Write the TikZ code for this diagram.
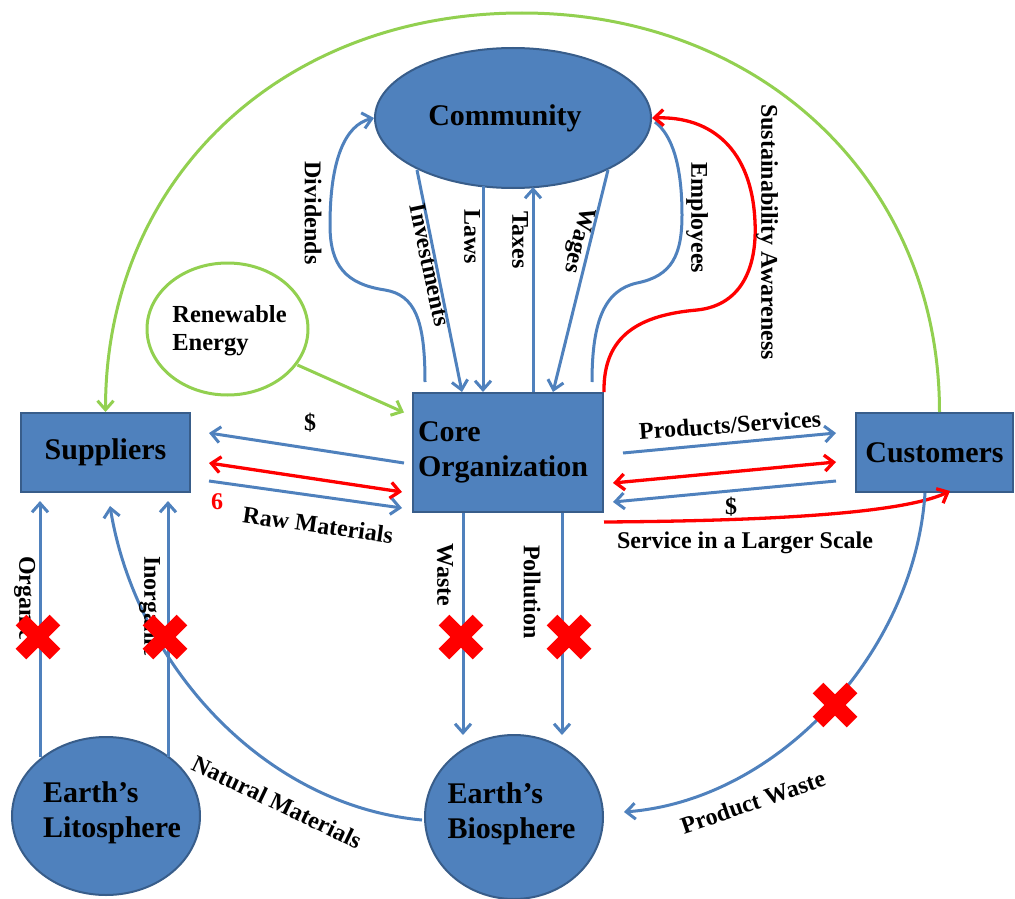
\documentclass[tikz,border=0pt]{standalone}
\usepackage{fontspec}
\setmainfont{Liberation Serif}
\usetikzlibrary{arrows.meta,shapes.geometric,calc}
\definecolor{fillblue}{HTML}{4F81BD}
\definecolor{edgeblue}{HTML}{385D8A}
\definecolor{lineblue}{HTML}{4F81BD}
\definecolor{leaf}{HTML}{92D050}
\definecolor{alarm}{HTML}{FF0000}
\newcommand\nodefont{\fontsize{30}{35}\selectfont\bfseries}
\newcommand\renfont{\fontsize{24.5}{28}\selectfont\bfseries}
\newcommand\lblfont{\fontsize{24}{28}\selectfont\bfseries}

\begin{document}
\begin{tikzpicture}[x=1pt,y=-1pt,
  >={Straight Barb[length=9pt,width=16pt]},
  box/.style={rectangle,draw=edgeblue,line width=2pt,fill=fillblue,inner sep=0pt,font=\nodefont},
  orb/.style={ellipse,draw=edgeblue,line width=2pt,fill=fillblue,inner sep=0pt},
  inside/.style={font=\nodefont,align=left,inner sep=0pt},
  flow/.style={draw=lineblue,line width=3pt},
  hot/.style={draw=alarm,line width=3.3pt},
  eco/.style={draw=leaf,line width=3pt},
  lbl/.style={font=\lblfont,inner sep=0pt},
  xmark/.pic={\draw[alarm,line width=15pt] (-17,-17) -- (17,17) (-17,17) -- (17,-17);}
]
\useasboundingbox (0,0) rectangle (1015,899);

% ---- actors ----
\node[box,minimum width=169pt,minimum height=79pt] (sup) at (105.5,452.5) {Suppliers};
\node[box,minimum width=157pt,minimum height=79pt] (cust) at (934.5,452.5) {Customers};
\node[box,minimum width=190pt,minimum height=119pt,text width=180pt,align=left,inner sep=5pt] (core) at (508,452.5) {Core\\Organization};
\node[orb,minimum width=276pt,minimum height=140pt,
      label={[inside,xshift=-8pt]center:Community}] (comm) at (513,118) {};
\node[ellipse,draw=leaf,line width=3pt,fill=white,minimum width=161pt,minimum height=132pt,inner sep=0pt,
      label={[font=\renfont,align=left,inner sep=0pt,xshift=2pt,yshift=-2pt]center:Renewable\\Energy}] (ren) at (227.5,329) {};
\node[orb,minimum width=188pt,minimum height=158pt,
      label={[inside,xshift=6pt,yshift=3pt]center:Earth’s\\Litosphere}] (lito) at (106,816) {};
\node[orb,minimum width=178pt,minimum height=164pt,
      label={[inside,xshift=-2.5pt,yshift=3.5pt]center:Earth’s\\Biosphere}] (bio) at (514,817) {};

% ---- community exchanges ----
\draw[flow,->] ($(core.north)+(-83,-10)$) .. controls (425,320) and (415,295) .. (385,290)
   .. controls (345,284) and (330,265) .. (330,225) .. controls (330,160) and (345,125) .. (comm.west);
\draw[flow] ($(core.north)+(84,-10)$) .. controls (592,320) and (605,290) .. (637,283)
   .. controls (672,276) and (682,255) .. (682,215) .. controls (682,165) and (672,135) .. ($(comm.east)+(3,4)$);
\draw[flow,->] ($(comm.center)+(-96,52)$) -- ($(core.north)+(-46,0)$);
\draw[flow,->] ($(comm.center)+(-30,68)$) -- ($(core.north)+(-25,0)$);
\draw[flow,->] ($(core.north)+(25,0)$) -- ($(comm.center)+(20,69)$);
\draw[flow,->] ($(comm.center)+(95,52)$) -- ($(core.north)+(45,0)$);
\draw[hot,->] (core.north east) .. controls (603,335) and (640,315) .. (697,310)
   .. controls (745,305) and (757,262) .. (755,222) .. controls (752,150) and (712,116) .. (comm.east);

% ---- energy and the outer loop ----
\draw[eco,->] ($(ren.center)+(70,36)$) -- ($(core.west)+(-8,-40)$);
\draw[eco,->] ($(cust.north)+(5,0)$) .. controls (939.5,180) and (760,13) .. (522,13)
   .. controls (280,13) and (105.5,180) .. (sup.north);

% ---- suppliers <-> core ----
\draw[flow,->] ($(core.west)+(-8,10.5)$) -- ($(sup.east)+(18,-19.5)$);
\draw[hot,<->] ($(sup.east)+(18,10.5)$) -- ($(core.west)+(-10,39.5)$);
\draw[flow,->] ($(sup.east)+(18,28.5)$) -- ($(core.west)+(-10,55.5)$);

% ---- core <-> customers ----
\draw[flow,->] ($(core.east)+(19,0.5)$) -- ($(cust.west)+(-19,-19.5)$);
\draw[hot,<->] ($(core.east)+(9,30.5)$) -- ($(cust.west)+(-19,9.5)$);
\draw[flow,->] ($(cust.west)+(-19,28.5)$) -- ($(core.east)+(9,49.5)$);
\draw[hot,->] ($(core.south east)+(0,9)$) .. controls (750,521) and (900,515) .. ($(cust.south)+(15.5,-2)$);

% ---- flows into the earth ----
\draw[flow,->] ($(core.south)+(-45,0)$) -- ($(bio.center)+(-51,-82)$);
\draw[flow,->] ($(core.south)+(54,0)$) -- ($(bio.center)+(48,-82)$);
\draw[flow,->] ($(cust.south)+(-9.5,0)$) .. controls (915,650) and (780,800) .. ($(bio.east)+(20,-5)$);

% ---- flows from the earth ----
\draw[flow,->] ($(lito.center)+(-66,-59)$) -- ($(sup.south)+(-65.5,8)$);
\draw[flow,->] ($(lito.center)+(62,-59)$) -- ($(sup.south)+(62.5,8)$);
\draw[flow,->] ($(bio.west)+(-2,3)$) .. controls (260,805) and (135,660) .. ($(sup.south)+(4.5,13)$);

% ---- labels ----
\node[lbl,rotate=-90] (t-div) at (313,213) {Dividends};
\node[lbl,rotate=-78] (t-inv) at (430,265) {Investments};
\node[lbl,rotate=-90] (t-law) at (472,237) {Laws};
\node[lbl,rotate=-90] (t-tax) at (520,240) {Taxes};
\node[lbl,rotate=-104] (t-wag) at (578,240) {Wages};
\node[lbl,rotate=-90] (t-emp) at (697,218) {Employees};
\node[lbl,rotate=-90] (t-sus) at (767,232) {Sustainability Awareness};
\node[lbl] (t-sd) at (310,423) {\$};
\node[lbl,text=alarm] (t-six) at (217,502) {6};
\node[lbl,rotate=-8] (t-raw) at (318,525) {Raw Materials};
\node[lbl,rotate=4] (t-prod) at (730,425) {Products/Services};
\node[lbl] (t-cd) at (731,507) {\$};
\node[lbl] (t-svc) at (745,543) {Service in a Larger Scale};
\node[lbl,rotate=-90] (t-wst) at (445,575) {Waste};
\node[lbl,rotate=-90] (t-pol) at (532,592) {Pollution};
\node[lbl,rotate=-90] (t-org) at (25,598) {Organic};
\node[lbl,rotate=-90] (t-inorg) at (150,606) {Inorganic};
\node[lbl,rotate=-25.6] (t-nat) at (277,802) {Natural Materials};
\node[lbl,rotate=18.8] (t-pw) at (753,802) {Product Waste};

% ---- blocked flows ----
\pic at (38,637) {xmark};
\pic at (165,637) {xmark};
\pic at (461,637) {xmark};
\pic at (569,637) {xmark};
\pic at (835,705) {xmark};
\end{tikzpicture}
\end{document}
